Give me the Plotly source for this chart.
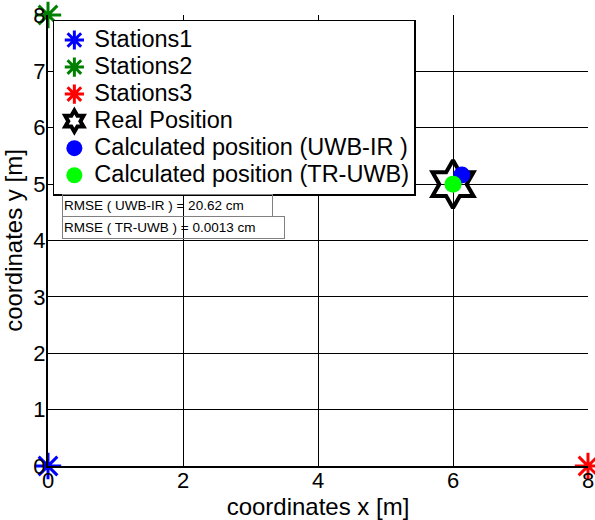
import plotly.graph_objects as go

# Anchor stations
station_names = ["Stations1", "Stations2", "Stations3"]
station_x = [0, 0, 8]
station_y = [0, 8, 0]
station_colors = ["#0000ff", "#008000", "#ff0000"]

# Positions
real_x, real_y = [6.0], [5.0]
uwb_ir_x, uwb_ir_y = [6.13], [5.16]
tr_uwb_x, tr_uwb_y = [6.0], [5.0]

rmse_labels = ["RMSE ( UWB-IR ) = 20.62 cm", "RMSE ( TR-UWB ) = 0.0013 cm"]

FONT = "Liberation Sans, Arial, sans-serif"


def legend_label(text):
    # larger glyphs while keeping the legend rows compact
    return f'<span style="font-size:23.5px">{text}</span>'


fig = go.Figure()

for name, xs, ys, c in zip(station_names, station_x, station_y, station_colors):
    fig.add_trace(go.Scatter(
        x=[xs], y=[ys], mode="markers", name=legend_label(name), cliponaxis=False,
        marker=dict(symbol="asterisk-open", size=22, color=c,
                    line=dict(color=c, width=3)),
    ))

fig.add_trace(go.Scatter(
    x=real_x, y=real_y, mode="markers", name=legend_label("Real Position"),
    cliponaxis=False,
    marker=dict(symbol="hexagram-open", size=36, color="black",
                line=dict(color="black", width=4)),
))
fig.add_trace(go.Scatter(
    x=uwb_ir_x, y=uwb_ir_y, mode="markers",
    name=legend_label("Calculated position (UWB-IR )"),
    marker=dict(symbol="circle", size=17, color="#0000ff"),
))
fig.add_trace(go.Scatter(
    x=tr_uwb_x, y=tr_uwb_y, mode="markers",
    name=legend_label("Calculated position (TR-UWB)"),
    marker=dict(symbol="circle", size=17, color="#00ff00"),
))

# RMSE text boxes
box_tops = [4.82, 4.43]
box_widths = [207, 219]
for label, top, w in zip(rmse_labels, box_tops, box_widths):
    fig.add_annotation(
        x=0.207, y=top, xref="x", yref="y", xanchor="left", yanchor="top",
        text=label, showarrow=False, align="left", width=w, height=19,
        font=dict(family=FONT, size=13.5, color="black"),
        bordercolor="#808080", borderwidth=1, borderpad=1,
    )

axis_common = dict(
    showgrid=True, gridcolor="black", gridwidth=1,
    showline=True, linecolor="black", linewidth=2, mirror=False,
    zeroline=False, ticks="inside", ticklen=4, tickcolor="black", tickwidth=1,
    tickfont=dict(family=FONT, size=22, color="black"),
)

fig.update_xaxes(range=[0, 8], tickvals=[0, 2, 4, 6, 8], ticklabelstandoff=-6,
                 title=dict(text="coordinates x [m]", standoff=0,
                            font=dict(family=FONT, size=24, color="black")),
                 automargin=False, **axis_common)
fig.update_yaxes(range=[0, 8], tickvals=[0, 1, 2, 3, 4, 5, 6, 7, 8],
                 ticklabelstandoff=-4,
                 title=dict(text="coordinates y [m]", standoff=4,
                            font=dict(family=FONT, size=24, color="black")),
                 automargin=False, **axis_common)

fig.update_layout(
    width=595, height=520,
    margin=dict(l=48, r=7, t=15, b=54),
    plot_bgcolor="white", paper_bgcolor="white",
    legend=dict(
        x=0.009, y=0.989, xanchor="left", yanchor="top",
        bgcolor="white", bordercolor="black", borderwidth=1.5,
        font=dict(family=FONT, size=18.5, color="black"),
        itemsizing="trace", tracegroupgap=0,
    ),
)

fig.write_html("out.html")
